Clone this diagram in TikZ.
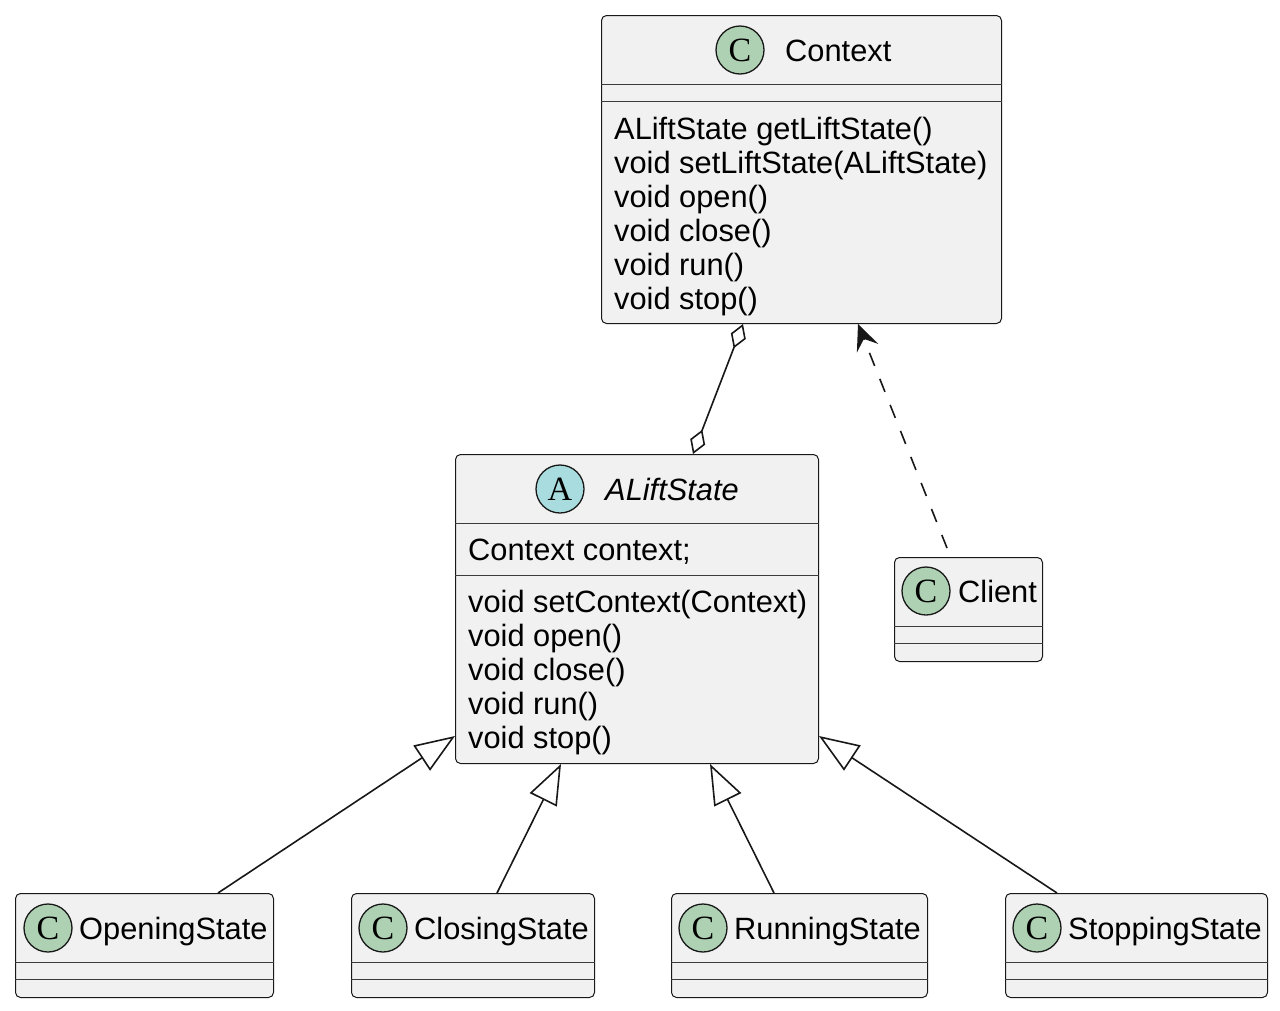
\documentclass[tikz,border=0pt]{standalone}
\usepackage{fontspec}
\setmainfont{Liberation Sans}
\newfontfamily\letterfont{Liberation Serif}
\usetikzlibrary{arrows.meta}
\definecolor{boxfill}{HTML}{F1F1F1}
\definecolor{boxline}{HTML}{181818}
\definecolor{cgreen}{HTML}{ADD1B2}
\definecolor{acyan}{HTML}{A9DCDF}
\tikzset{
  aggtip/.tip={Diamond[open,fill=white,length=26pt,width=16pt]},
  inhtip/.tip={Triangle[open,fill=white,length=40pt,width=30pt]},
  deptip/.tip={Stealth[length=26pt,width=23pt,inset=10pt]},
}
\begin{document}
\begin{tikzpicture}[x=1pt,y=-1pt,
  classbox/.style={draw=boxline,fill=boxfill,line width=1pt,rounded corners=5pt,anchor=north west,inner sep=0pt},
  sepline/.style={draw=boxline!85,line width=0.9pt},
  badge/.style={circle,draw=boxline,line width=1.3pt,minimum size=48pt,inner sep=0pt,font=\letterfont\fontsize{34}{34}\selectfont},
  txt/.style={anchor=base west,inner sep=0pt,font=\fontsize{30.8}{34}\selectfont},
  conn/.style={draw=boxline,line width=1.6pt},
]
\useasboundingbox (0,0) rectangle (1280,1010);

% Context
\node[classbox,minimum width=400pt,minimum height=308pt] (ctx) at (601,15) {};
\draw[sepline] (ctx.west |- 0,84) -- (ctx.east |- 0,84);
\draw[sepline] (ctx.west |- 0,101) -- (ctx.east |- 0,101);
\node[badge,fill=cgreen] (ctxb) at (740,50) {C};
\node[txt] (ctxn) at (785,61) {Context};
\node[txt] (cm1) at (614,139) {ALiftState getLiftState()};
\node[txt] (cm2) at (614,173) {void setLiftState(ALiftState)};
\node[txt] (cm3) at (614,207) {void open()};
\node[txt] (cm4) at (614,241) {void close()};
\node[txt] (cm5) at (614,275) {void run()};
\node[txt] (cm6) at (614,309) {void stop()};

% ALiftState
\node[classbox,minimum width=363pt,minimum height=309pt] (st) at (455,454) {};
\draw[sepline] (st.west |- 0,523) -- (st.east |- 0,523);
\draw[sepline] (st.west |- 0,575) -- (st.east |- 0,575);
\node[badge,fill=acyan] (stb) at (560,489) {A};
\node[txt,font=\fontsize{30.8}{34}\selectfont\itshape] (stn) at (605,500) {ALiftState};
\node[txt] (sf1) at (468,560) {Context context;};
\node[txt] (sm1) at (468,612) {void setContext(Context)};
\node[txt] (sm2) at (468,646) {void open()};
\node[txt] (sm3) at (468,680) {void close()};
\node[txt] (sm4) at (468,714) {void run()};
\node[txt] (sm5) at (468,748) {void stop()};

% Client
\node[classbox,minimum width=148pt,minimum height=104pt] (cl) at (894,557) {};
\draw[sepline] (cl.west |- 0,626) -- (cl.east |- 0,626);
\draw[sepline] (cl.west |- 0,643) -- (cl.east |- 0,643);
\node[badge,fill=cgreen] (clb) at (926,591) {C};
\node[txt] (cln) at (958,602) {Client};

% Bottom classes
\node[classbox,minimum width=258pt,minimum height=104pt] (os) at (15,893) {};
\node[classbox,minimum width=243pt,minimum height=104pt] (cs) at (351,893) {};
\node[classbox,minimum width=256pt,minimum height=104pt] (rs) at (671,893) {};
\node[classbox,minimum width=262pt,minimum height=104pt] (ss) at (1005,893) {};
\foreach \b in {os,cs,rs,ss}{
  \draw[sepline] (\b.west |- 0,962) -- (\b.east |- 0,962);
  \draw[sepline] (\b.west |- 0,979) -- (\b.east |- 0,979);
}
\node[badge,fill=cgreen] (osb) at (48,928) {C};
\node[badge,fill=cgreen] (csb) at (383,928) {C};
\node[badge,fill=cgreen] (rsb) at (703,928) {C};
\node[badge,fill=cgreen] (ssb) at (1037,928) {C};
\node[txt] (osn) at (79,939) {OpeningState};
\node[txt] (csn) at (414,939) {ClosingState};
\node[txt] (rsn) at (734,939) {RunningState};
\node[txt] (ssn) at (1068,939) {StoppingState};

% Connectors
\draw[conn,aggtip-aggtip] ([xshift=142pt]ctx.south west) -- ([xshift=238pt]st.north west);
\draw[conn,dash pattern=on 14pt off 14pt,-deptip]
  ([xshift=53pt,yshift=9pt]cl.north west) -- ([xshift=257pt]ctx.south west);
\draw[conn,-inhtip] ([xshift=203pt]os.north west) -- ([yshift=28pt]st.south west);
\draw[conn,-inhtip] ([xshift=146pt]cs.north west) -- ([xshift=106pt]st.south west);
\draw[conn,-inhtip] ([xshift=103pt]rs.north west) -- ([xshift=255pt]st.south west);
\draw[conn,-inhtip] ([xshift=52pt]ss.north west) -- ([yshift=28pt]st.south east);
\end{tikzpicture}
\end{document}
